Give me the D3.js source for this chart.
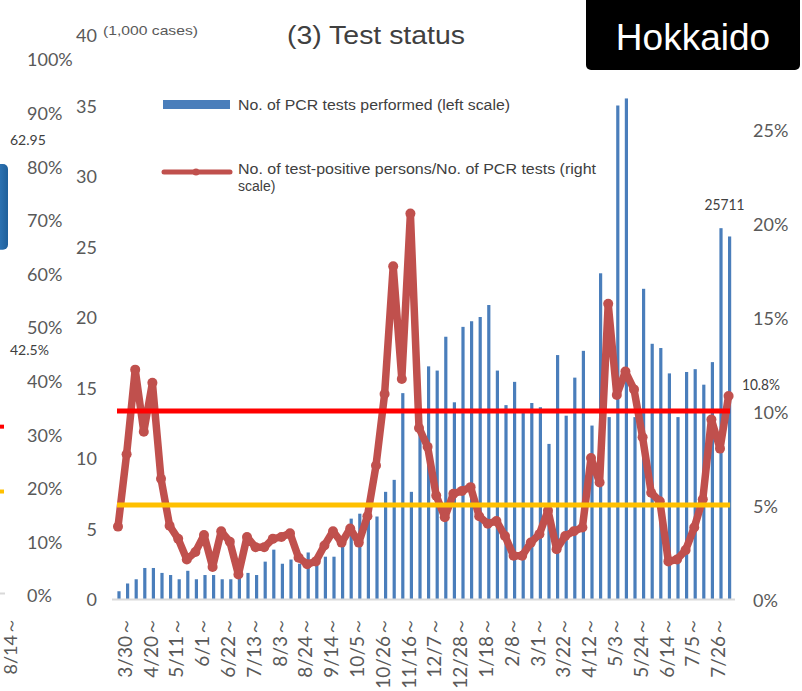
<!DOCTYPE html>
<html><head><meta charset="utf-8">
<script src="https://cdn.jsdelivr.net/npm/d3@7"></script>
<style>body{margin:0;background:#fff}</style>
</head><body><svg id="c" width="802" height="691"></svg>
<script>
// ---------- data ----------
const weeks = ["3/30","4/6","4/13","4/20","4/27","5/4","5/11","5/18","5/25","6/1","6/8","6/15","6/22","6/29","7/6","7/13","7/20","7/27","8/3","8/10","8/17","8/24","8/31","9/7","9/14","9/21","9/28","10/5","10/12","10/19","10/26","11/2","11/9","11/16","11/23","11/30","12/7","12/14","12/21","12/28","1/4","1/11","1/18","1/25","2/1","2/8","2/15","2/22","3/1","3/8","3/15","3/22","3/29","4/5","4/12","4/19","4/26","5/3","5/10","5/17","5/24","5/31","6/7","6/14","6/21","6/28","7/5","7/12","7/19","7/26","8/2","8/9"];
const tickLabels = ["3/30","4/20","5/11","6/1","6/22","7/13","8/3","8/24","9/14","10/5","10/26","11/16","12/7","12/28","1/18","2/8","3/1","3/22","4/12","5/3","5/24","6/14","7/5","7/26"];
// No. of PCR tests performed (1,000 cases)
const pcrTests = [0.55,1.1,1.4,2.2,2.2,1.85,1.7,1.4,2.0,1.4,1.7,1.7,1.4,1.4,1.6,1.85,1.7,2.65,3.5,2.5,2.8,2.5,3.3,2.5,3.0,3.0,3.95,5.7,6.05,5.8,5.85,7.6,8.45,14.6,7.6,12.0,16.5,16.2,18.6,13.95,19.3,19.7,20.0,20.85,16.2,13.75,15.4,13.3,13.9,13.6,11.0,17.3,13.0,15.7,17.6,12.3,23.1,12.9,35.0,35.5,12.9,22.0,18.1,17.8,16.0,12.9,16.1,16.3,15.2,16.8,26.3,25.711];
// Test-positive persons / PCR tests (%)
const positivity = [3.85,7.7,12.2,8.9,11.5,6.4,3.9,3.2,2.1,2.5,3.4,1.7,3.6,3.05,1.3,3.3,2.75,2.75,3.2,3.3,3.5,2.2,1.85,2.0,2.85,3.6,3.0,3.75,3.0,4.4,7.1,10.9,17.7,11.7,20.5,9.1,8.1,5.5,4.35,5.6,5.75,5.95,4.4,4.0,4.15,3.35,2.3,2.3,3.0,3.45,4.7,2.65,3.35,3.6,3.8,7.5,6.2,15.7,10.85,12.1,11.15,8.6,5.65,5.2,2.0,2.1,2.6,3.8,5.3,9.55,8.0,10.8];
const leftTicks = [0,5,10,15,20,25,30,35,40];
const rightTicks = [0,5,10,15,20,25];
const thresholds = [{v:10,c:"#ff0000"},{v:5,c:"#ffc000"}];
// fragment of the neighbouring chart on the left
const stripTicks = [0,10,20,30,40,50,60,70,80,90,100];
const stripMarks = [{v:31.5,c:"#ff0000"},{v:19.4,c:"#ffc000"}];
const stripLabels = [{t:"62.95",v:84.9},{t:"42.5%",v:45.9}];

// ---------- scales ----------
const svg = d3.select("#c");
svg.append("rect").attr("width",802).attr("height",691).attr("fill","#fff");
const x = d3.scaleBand().domain(weeks).range([114.7,733.9]).padding(0);
const cx = d => x(d) + x.bandwidth()/2;
const yL = d3.scaleLinear().domain([0,40]).range([599,35]);
const yR = d3.scaleLinear().domain([0,30]).range([599,35]);
const yS = d3.scaleLinear().domain([0,100]).range([595.5,59.5]);

const numFont = "Lato, 'DejaVu Sans', sans-serif";
const txtFont = "'Liberation Sans', Arial, sans-serif";
const grey = "#595959";

// ---------- left strip (neighbouring chart) ----------
const gs = svg.append("g");
const defs = svg.append("defs");
const grad = defs.append("linearGradient").attr("id","cyl").attr("x1",0).attr("x2",1);
grad.append("stop").attr("offset","0%").attr("stop-color","#8fd3f0");
grad.append("stop").attr("offset","35%").attr("stop-color","#2f77b8");
grad.append("stop").attr("offset","100%").attr("stop-color","#1f5f9a");
gs.append("rect").attr("x",-8).attr("y",yS(80.5)).attr("width",16).attr("height",yS(64.5)-yS(80.5))
  .attr("rx",5).attr("fill","url(#cyl)");
gs.append("line").attr("x1",0).attr("x2",5).attr("y1",yS(0)-2).attr("y2",yS(0)-2)
  .attr("stroke","#d9d9d9").attr("stroke-width",2);
stripMarks.forEach(m=>gs.append("line").attr("x1",0).attr("x2",4).attr("y1",yS(m.v)).attr("y2",yS(m.v))
  .attr("stroke",m.c).attr("stroke-width",4));
const sAxis = gs.append("g").attr("transform","translate(27,0)")
  .call(d3.axisRight(yS).tickValues(stripTicks).tickSize(0).tickPadding(0).tickFormat(d=>d+"%"));
sAxis.select(".domain").remove();
sAxis.selectAll("text").attr("font-family",numFont).attr("font-size",18).attr("fill",grey).attr("dy","0.36em");
stripLabels.forEach(l=>gs.append("text").attr("x",10).attr("y",yS(l.v)).attr("dy","0.36em")
  .attr("font-family",numFont).attr("font-size",14).attr("fill","#404040").text(l.t));
gs.append("text").attr("transform","translate(11,617) rotate(-90)").attr("text-anchor","end")
  .attr("dy","0.36em").attr("font-family",numFont).attr("font-size",18).attr("fill",grey).text("8/14～");

// ---------- bars ----------
svg.append("g").selectAll("rect").data(weeks).join("rect")
  .attr("x",(d)=>cx(d)-1.6).attr("width",3.2)
  .attr("y",(d,i)=>yL(pcrTests[i])).attr("height",(d,i)=>yL(0)-yL(pcrTests[i]))
  .attr("fill","#4a7ebb");

// baseline
svg.append("line").attr("x1",112).attr("x2",735).attr("y1",yL(0)+0.5).attr("y2",yL(0)+0.5)
  .attr("stroke","#d9d9d9").attr("stroke-width",2);

// ---------- positivity line ----------
const lineGen = d3.line().x((d,i)=>cx(weeks[i])-1).y(d=>yR(d));
svg.append("path").datum(positivity).attr("d",lineGen).attr("fill","none")
  .attr("stroke","#c0504d").attr("stroke-width",7.5).attr("stroke-linejoin","round").attr("stroke-linecap","round");
svg.append("g").selectAll("circle").data(positivity).join("circle")
  .attr("cx",(d,i)=>cx(weeks[i])-1).attr("cy",d=>yR(d)).attr("r",5).attr("fill","#c0504d");

// ---------- threshold lines ----------
thresholds.forEach(t=>svg.append("line")
  .attr("x1",cx(weeks[0])-2).attr("x2",cx(weeks[weeks.length-1])+0.5)
  .attr("y1",yR(t.v)).attr("y2",yR(t.v)).attr("stroke",t.c).attr("stroke-width",5));

// ---------- axes ----------
const aL = svg.append("g").attr("transform","translate(97,1)")
  .call(d3.axisLeft(yL).tickValues(leftTicks).tickSize(0).tickPadding(0));
aL.select(".domain").remove();
aL.selectAll("text").attr("font-family",numFont).attr("font-size",18).attr("fill",grey);

const aR = svg.append("g").attr("transform","translate(753,2)")
  .call(d3.axisRight(yR).tickValues(rightTicks).tickSize(0).tickPadding(0).tickFormat(d=>d+"%"));
aR.select(".domain").remove();
aR.selectAll("text").attr("font-family",numFont).attr("font-size",18).attr("fill",grey);

const aB = svg.append("g").attr("transform","translate(6,599)")
  .call(d3.axisBottom(x).tickValues(tickLabels).tickSize(0).tickFormat(d=>d+"～"));
aB.select(".domain").remove();
aB.selectAll("text").attr("transform","rotate(-90)").attr("x",-18).attr("y",0).attr("dy","0.36em")
  .attr("text-anchor","end").attr("font-family",numFont).attr("font-size",19).attr("fill",grey);

// ---------- titles & annotations ----------
svg.append("text").attr("x",103).attr("y",35).attr("font-family",txtFont).attr("font-size",13)
  .attr("fill",grey).attr("textLength",95).attr("lengthAdjust","spacingAndGlyphs").text("(1,000 cases)");
svg.append("text").attr("x",287).attr("y",44).attr("font-family",txtFont).attr("font-size",26)
  .attr("fill","#404040").attr("textLength",178).attr("lengthAdjust","spacingAndGlyphs").text("(3) Test status");

svg.append("rect").attr("x",586).attr("y",-6).attr("width",214).attr("height",76).attr("rx",5).attr("fill","#000");
svg.append("text").attr("x",693).attr("y",50).attr("text-anchor","middle").attr("font-family",txtFont)
  .attr("font-size",37).attr("fill","#fff").text("Hokkaido");

// legend
svg.append("rect").attr("x",163).attr("y",100).attr("width",67).attr("height",9).attr("fill","#4a7ebb");
svg.append("text").attr("x",238).attr("y",110).attr("font-family",txtFont).attr("font-size",14)
  .attr("fill","#404040").attr("textLength",272).attr("lengthAdjust","spacingAndGlyphs")
  .text("No. of PCR tests performed (left scale)");
svg.append("line").attr("x1",164).attr("x2",230).attr("y1",172).attr("y2",172)
  .attr("stroke","#c0504d").attr("stroke-width",5).attr("stroke-linecap","round");
svg.append("circle").attr("cx",196).attr("cy",172).attr("r",3.5).attr("fill","#c0504d");
svg.append("text").attr("x",238).attr("y",174).attr("font-family",txtFont).attr("font-size",14)
  .attr("fill","#404040").attr("textLength",358).attr("lengthAdjust","spacingAndGlyphs")
  .text("No. of test-positive persons/No. of PCR tests (right");
svg.append("text").attr("x",238).attr("y",191).attr("font-family",txtFont).attr("font-size",14)
  .attr("fill","#404040").text("scale)");

// value annotations
const last = weeks.length-1;
svg.append("text").attr("x",cx(weeks[last])-5).attr("y",210).attr("text-anchor","middle")
  .attr("font-family",numFont).attr("font-size",16).attr("fill","#404040")
  .attr("textLength",40).attr("lengthAdjust","spacingAndGlyphs").text(Math.round(pcrTests[last]*1000));
svg.append("text").attr("x",742).attr("y",390).attr("font-family",numFont).attr("font-size",15)
  .attr("fill","#404040").attr("textLength",38).attr("lengthAdjust","spacingAndGlyphs")
  .text(positivity[last]+"%");
</script></body></html>
